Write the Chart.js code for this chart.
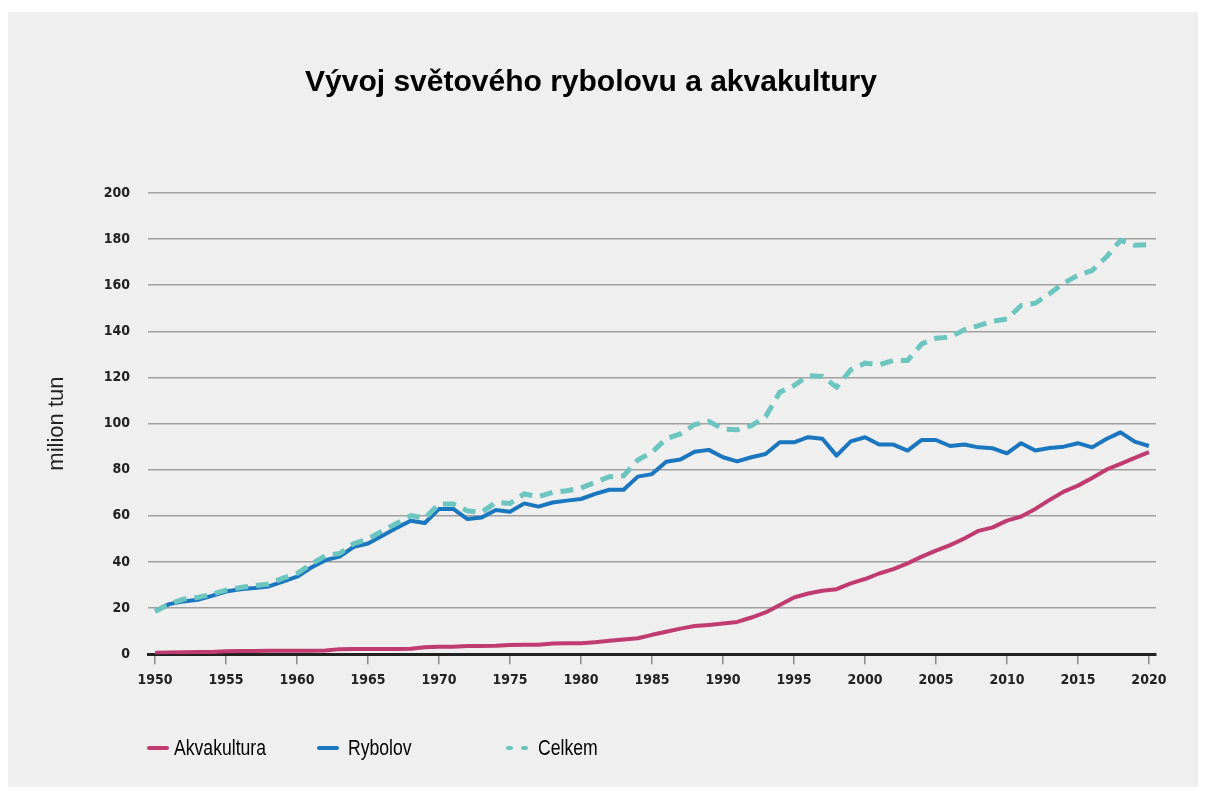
<!DOCTYPE html>
<html>
<head>
<meta charset="utf-8">
<script src="https://cdn.jsdelivr.net/npm/chart.js@4.4.1/dist/chart.umd.min.js"></script>
<style>
  html, body { margin: 0; padding: 0; background: #ffffff; }
  #panel { position: absolute; left: 8px; top: 12px; width: 1190px; height: 775px; background: #efefef; }
  #wrap { position: absolute; left: 0; top: 0; width: 1206px; height: 794px; }
  .lg { position: absolute; font-family: 'Liberation Sans', Arial, sans-serif; font-size: 22px; color: #000; line-height: 24px; top: 736px; transform: scaleX(0.8); transform-origin: left center; white-space: nowrap; }
  .sw { position: absolute; height: 4px; top: 746px; border-radius: 2px; }
</style>
</head>
<body>
<div id="panel"></div>
<div id="wrap"><canvas id="c" width="1206" height="794"></canvas></div>
<div class="sw" style="left:147px;width:22px;background:#c03b72"></div>
<div class="lg" style="left:174px">Akvakultura</div>
<div class="sw" style="left:317px;width:22px;background:#1b76c0"></div>
<div class="lg" style="left:348px">Rybolov</div>
<div class="sw" style="left:506px;width:7px;background:#6cc6bf"></div>
<div class="sw" style="left:521px;width:7px;background:#6cc6bf"></div>
<div class="lg" style="left:538px">Celkem</div>
<script>
const years = [
  1950,1951,1952,1953,1954,1955,1956,1957,1958,1959,
  1960,1961,1962,1963,1964,1965,1966,1967,1968,1969,
  1970,1971,1972,1973,1974,1975,1976,1977,1978,1979,
  1980,1981,1982,1983,1984,1985,1986,1987,1988,1989,
  1990,1991,1992,1993,1994,1995,1996,1997,1998,1999,
  2000,2001,2002,2003,2004,2005,2006,2007,2008,2009,
  2010,2011,2012,2013,2014,2015,2016,2017,2018,2019,
  2020
];
const akvakultura = [
  0.6,0.7,0.8,0.9,1.0,1.3,1.4,1.4,1.5,1.5,
  1.5,1.5,1.6,2.2,2.3,2.3,2.3,2.3,2.4,3.0,
  3.2,3.2,3.6,3.6,3.7,4.0,4.1,4.1,4.6,4.7,
  4.7,5.2,5.8,6.4,6.9,8.4,9.7,11.1,12.2,12.7,
  13.3,14.0,15.9,18.1,21.3,24.6,26.3,27.5,28.2,30.7,
  32.6,35.0,36.9,39.4,42.3,44.9,47.3,50.2,53.5,55.0,
  57.9,59.7,63.0,66.9,70.5,73.1,76.4,80.0,82.5,85.1,
  87.6
];
const rybolov = [
  18.8,21.7,22.9,23.6,25.3,27.2,28.2,28.7,29.4,31.5,
  33.6,37.6,40.8,42.3,46.6,48.0,51.4,54.7,57.9,56.9,
  63.0,63.0,58.6,59.3,62.5,61.8,65.4,64.0,65.8,66.6,
  67.3,69.5,71.3,71.3,77.0,78.1,83.5,84.4,87.8,88.6,
  85.4,83.6,85.4,86.8,91.9,91.9,94.1,93.4,86.1,92.3,
  94.1,90.9,90.9,88.3,92.9,92.9,90.3,90.9,89.7,89.3,
  87.1,91.5,88.3,89.4,90.0,91.5,89.7,93.3,96.2,92.2,
  90.3
];
const celkem = [
  18.5,21.7,23.9,24.6,26.0,27.8,28.9,29.7,30.4,33.0,
  35.0,39.1,42.7,43.7,48.0,49.9,53.5,56.7,60.1,59.1,
  65.1,65.1,62.2,61.5,65.8,65.4,69.5,68.3,70.2,70.9,
  72.1,74.5,77.0,77.4,84.2,87.6,93.4,95.5,99.6,101.0,
  97.7,97.3,99.1,103.0,113.6,116.5,120.8,120.4,115.8,123.3,
  126.2,125.5,127.4,127.4,134.6,137.0,137.5,140.7,142.5,144.4,
  145.4,151.2,152.2,156.3,160.9,164.3,166.4,172.2,179.5,177.3,
  177.6
];
const xTickYears = [1950,1955,1960,1965,1970,1975,1980,1985,1990,1995,2000,2005,2010,2015,2020];
const yTicks = [0,20,40,60,80,100,120,140,160,180,200];
const seriesNames = ['Akvakultura','Rybolov','Celkem'];
const titleText = 'Vývoj světového rybolovu a akvakultury';
const yTitle = 'milion tun';

const toXY = arr => arr.map((v, i) => ({ x: years[i], y: v }));
const tickFont = { family: "'DejaVu Sans Condensed', sans-serif", size: 14, weight: 'bold' };

new Chart(document.getElementById('c'), {
  type: 'line',
  data: {
    datasets: [
      { label: seriesNames[0], data: toXY(akvakultura), borderColor: '#c03b72', borderWidth: 4, pointRadius: 0, tension: 0, order: 2, borderJoinStyle: 'round' },
      { label: seriesNames[1], data: toXY(rybolov), borderColor: '#1b76c0', borderWidth: 4, pointRadius: 0, tension: 0, order: 1, borderJoinStyle: 'round' },
      { label: seriesNames[2], data: toXY(celkem), borderColor: '#6cc6bf', borderWidth: 5, borderDash: [13, 8], pointRadius: 0, tension: 0, order: 0 }
    ]
  },
  options: {
    responsive: false,
    animation: false,
    layout: { padding: { left: 26, right: 50, top: 65, bottom: 97 } },
    plugins: {
      legend: { display: false },
      tooltip: { enabled: false },
      title: {
        display: true, text: titleText, color: '#000',
        font: { family: "'Liberation Sans', Arial, sans-serif", size: 30, weight: 'bold' },
        padding: { top: 0, bottom: 92 }
      }
    },
    scales: {
      x: {
        type: 'linear', min: 1949.5, max: 2020.5,
        afterBuildTicks: s => { s.ticks = xTickYears.map(v => ({ value: v })); },
        ticks: { callback: v => String(v), autoSkip: false, maxRotation: 0, color: '#222', font: tickFont, padding: 8 },
        grid: { display: true, drawOnChartArea: false, drawTicks: true, tickLength: 10, color: '#8a8a8a', lineWidth: 1.5 },
        border: { display: true, color: '#222', width: 3 }
      },
      y: {
        min: 0, max: 200,
        afterBuildTicks: s => { s.ticks = yTicks.map(v => ({ value: v })); },
        afterFit: s => { s.width = 122; },
        ticks: { color: '#222', font: tickFont, padding: 18 },
        grid: { color: '#a0a0a0', lineWidth: 1.5, drawTicks: false },
        border: { display: false },
        title: { display: true, text: yTitle, color: '#222', font: { family: "'Liberation Sans', Arial, sans-serif", size: 22 }, padding: { top: 18, bottom: 0 } }
      }
    }
  }
});
</script>
</body>
</html>
